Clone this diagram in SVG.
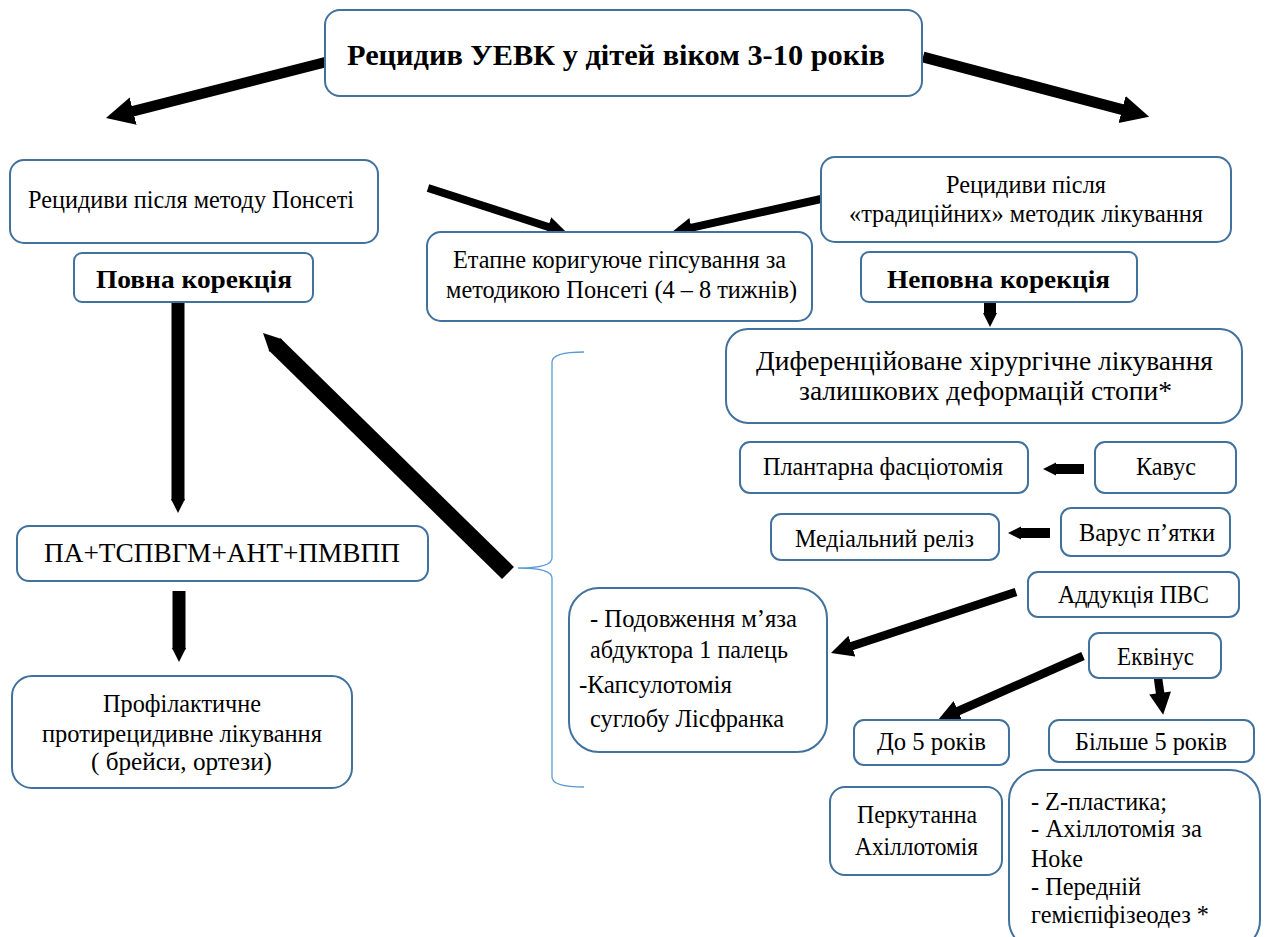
<svg xmlns="http://www.w3.org/2000/svg" width="1265" height="937" viewBox="0 0 1265 937" font-family="Liberation Serif" font-size="25">
<style>
.box{fill:#fff;stroke:#41719c;stroke-width:2}
.b{font-weight:bold}
.ar{stroke:#000;fill:none}
.brace{fill:none;stroke:#5b9bd5;stroke-width:1.3}
</style>
<defs>
<marker id="h1" viewBox="0 0 10 10" refX="1" refY="5" markerUnits="userSpaceOnUse" markerWidth="28" markerHeight="29" orient="auto"><path d="M0,0L10,5L0,10z" fill="#000"/></marker>
<marker id="h2" viewBox="0 0 10 10" refX="1" refY="5" markerUnits="userSpaceOnUse" markerWidth="20" markerHeight="23" orient="auto"><path d="M0,0L10,5L0,10z" fill="#000"/></marker>
<marker id="h3" viewBox="0 0 10 10" refX="1" refY="5" markerUnits="userSpaceOnUse" markerWidth="14" markerHeight="30" orient="auto"><path d="M0,0L10,5L0,10z" fill="#000"/></marker>
<marker id="h4" viewBox="0 0 10 10" refX="1" refY="5" markerUnits="userSpaceOnUse" markerWidth="18" markerHeight="34" orient="auto"><path d="M0,0L10,5L0,10z" fill="#000"/></marker>
<marker id="h5" viewBox="0 0 10 10" refX="1" refY="5" markerUnits="userSpaceOnUse" markerWidth="13" markerHeight="17" orient="auto"><path d="M0,0L10,5L0,10z" fill="#000"/></marker>
<marker id="h6" viewBox="0 0 10 10" refX="1" refY="5" markerUnits="userSpaceOnUse" markerWidth="14" markerHeight="28" orient="auto"><path d="M0,0L10,5L0,10z" fill="#000"/></marker>
<marker id="h7" viewBox="0 0 10 10" refX="1" refY="5" markerUnits="userSpaceOnUse" markerWidth="22" markerHeight="23" orient="auto"><path d="M0,0L10,5L0,10z" fill="#000"/></marker>
<marker id="h8" viewBox="0 0 10 10" refX="1" refY="5" markerUnits="userSpaceOnUse" markerWidth="30" markerHeight="22" orient="auto"><path d="M0,0L10,5L0,10z" fill="#000"/></marker>
</defs>

<g id="connectors">
<line class="ar" x1="326" y1="62" x2="130.4" y2="111.8" stroke-width="10.5" marker-end="url(#h1)"/>
<line class="ar" x1="923" y1="57" x2="1124.8" y2="110.3" stroke-width="11" marker-end="url(#h1)"/>
<line class="ar" x1="428" y1="188" x2="550" y2="227.5" stroke-width="8" marker-end="url(#h2)"/>
<line class="ar" x1="821" y1="199" x2="689.6" y2="228.1" stroke-width="8" marker-end="url(#h2)"/>
<line class="ar" x1="178" y1="302" x2="178" y2="500.4" stroke-width="13" marker-end="url(#h3)"/>
<line class="ar" x1="179" y1="591" x2="179" y2="649.4" stroke-width="13" marker-end="url(#h3)"/>
<line class="ar" x1="508" y1="573" x2="274.6" y2="344.3" stroke-width="17" marker-end="url(#h4)"/>
<line class="ar" x1="990" y1="302" x2="990" y2="314.4" stroke-width="12" marker-end="url(#h6)"/>
<line class="ar" x1="1084" y1="469" x2="1054.7" y2="469" stroke-width="10" marker-end="url(#h5)"/>
<line class="ar" x1="1050" y1="533" x2="1019.7" y2="533" stroke-width="10" marker-end="url(#h5)"/>
<line class="ar" x1="1016" y1="592" x2="849.8" y2="646.8" stroke-width="8.5" marker-end="url(#h7)"/>
<line class="ar" x1="1083" y1="656" x2="956.1" y2="712" stroke-width="8.5" marker-end="url(#h7)"/>
<line class="ar" x1="1158" y1="678" x2="1160.4" y2="695.2" stroke-width="8.5" marker-end="url(#h8)"/>
<path class="brace" d="M584,352 Q552,352 552,362 L552,558 Q552,568 518,568 Q552,568 552,578 L552,777 Q552,787 584,787"/>
</g>

<g id="title"><rect class="box" x="325" y="10" width="597" height="86" rx="15"/>
<text class="b" x="347" y="65" font-size="30" textLength="538" lengthAdjust="spacingAndGlyphs">Рецидив УЕВК у дітей віком 3-10 років</text></g>

<g id="ponseti"><rect class="box" x="10" y="160" width="368" height="83" rx="14"/>
<text x="28" y="208" textLength="326" lengthAdjust="spacingAndGlyphs">Рецидиви після методу Понсеті</text></g>

<g id="povna"><rect class="box" x="74" y="253" width="239" height="49" rx="8"/>
<text class="b" x="96" y="288" textLength="196" lengthAdjust="spacingAndGlyphs">Повна корекція</text></g>

<g id="etapne"><rect class="box" x="427" y="232" width="385" height="89" rx="14"/>
<text x="453" y="268" textLength="333" lengthAdjust="spacingAndGlyphs">Етапне коригуюче гіпсування за</text>
<text x="446" y="298" textLength="351" lengthAdjust="spacingAndGlyphs">методикою Понсеті (4 – 8 тижнів)</text></g>

<g id="trad"><rect class="box" x="821" y="157" width="410" height="85" rx="14"/>
<text x="946" y="193" textLength="160" lengthAdjust="spacingAndGlyphs">Рецидиви після</text>
<text x="849" y="222" textLength="354" lengthAdjust="spacingAndGlyphs">«традиційних» методик лікування</text></g>

<g id="nepovna"><rect class="box" x="861" y="252" width="276" height="50" rx="8"/>
<text class="b" x="887" y="288" textLength="223" lengthAdjust="spacingAndGlyphs">Неповна корекція</text></g>

<g id="dyf"><rect class="box" x="726" y="329" width="516" height="94" rx="22"/>
<text x="756" y="370" font-size="27" textLength="457" lengthAdjust="spacingAndGlyphs">Диференційоване хірургічне лікування</text>
<text x="799" y="400" font-size="27" textLength="373" lengthAdjust="spacingAndGlyphs">залишкових деформацій стопи*</text></g>

<g id="plantar"><rect class="box" x="740" y="442" width="288" height="51" rx="10"/>
<text x="763" y="475" textLength="240" lengthAdjust="spacingAndGlyphs">Плантарна фасціотомія</text></g>

<g id="kavus"><rect class="box" x="1095" y="442" width="141" height="51" rx="10"/>
<text x="1136" y="475" textLength="60" lengthAdjust="spacingAndGlyphs">Кавус</text></g>

<g id="medial"><rect class="box" x="771" y="514" width="228" height="46" rx="10"/>
<text x="795" y="547" textLength="179" lengthAdjust="spacingAndGlyphs">Медіальний реліз</text></g>

<g id="varus"><rect class="box" x="1061" y="508" width="169" height="48" rx="10"/>
<text x="1079" y="541" textLength="136" lengthAdjust="spacingAndGlyphs">Варус п’ятки</text></g>

<g id="adduk"><rect class="box" x="1028" y="572" width="211" height="45" rx="10"/>
<text x="1058" y="603" textLength="151" lengthAdjust="spacingAndGlyphs">Аддукція ПВС</text></g>

<g id="podovzh"><rect class="box" x="569" y="588" width="258" height="164" rx="30"/>
<text x="590" y="627" textLength="207" lengthAdjust="spacingAndGlyphs">- Подовження м’яза</text>
<text x="590" y="658" textLength="198" lengthAdjust="spacingAndGlyphs">абдуктора 1 палець</text>
<text x="579" y="693" textLength="153" lengthAdjust="spacingAndGlyphs">-Капсулотомія</text>
<text x="590" y="727" textLength="194" lengthAdjust="spacingAndGlyphs">суглобу Лісфранка</text></g>

<g id="ekvin"><rect class="box" x="1089" y="633" width="132" height="45" rx="10"/>
<text x="1117" y="665" textLength="77" lengthAdjust="spacingAndGlyphs">Еквінус</text></g>

<g id="do5"><rect class="box" x="854" y="720" width="155" height="45" rx="10"/>
<text x="877" y="750" textLength="109" lengthAdjust="spacingAndGlyphs">До 5 років</text></g>

<g id="bilshe"><rect class="box" x="1049" y="720" width="205" height="42" rx="10"/>
<text x="1075" y="750" textLength="152" lengthAdjust="spacingAndGlyphs">Більше 5 років</text></g>

<g id="perk"><rect class="box" x="830" y="787" width="172" height="88" rx="15"/>
<text x="857" y="823" textLength="120" lengthAdjust="spacingAndGlyphs">Перкутанна</text>
<text x="855" y="855" textLength="123" lengthAdjust="spacingAndGlyphs">Ахіллотомія</text></g>

<g id="zplast"><rect class="box" x="1009" y="770" width="251" height="180" rx="30"/>
<text x="1031" y="810" textLength="136" lengthAdjust="spacingAndGlyphs">- Z-пластика;</text>
<text x="1031" y="837" textLength="171" lengthAdjust="spacingAndGlyphs">- Ахіллотомія за</text>
<text x="1031" y="867" textLength="52" lengthAdjust="spacingAndGlyphs">Hoke</text>
<text x="1031" y="895" textLength="110" lengthAdjust="spacingAndGlyphs">- Передній</text>
<text x="1031" y="923" textLength="178" lengthAdjust="spacingAndGlyphs">гемієпіфізеодез  *</text></g>

<g id="pa"><rect class="box" x="17" y="526" width="411" height="55" rx="12"/>
<text x="44" y="562" font-size="27" textLength="356" lengthAdjust="spacingAndGlyphs">ПА+ТСПВГМ+АНТ+ПМВПП</text></g>

<g id="prof"><rect class="box" x="12" y="676" width="340" height="112" rx="20"/>
<text x="103" y="712" textLength="158" lengthAdjust="spacingAndGlyphs">Профілактичне</text>
<text x="42" y="742" textLength="280" lengthAdjust="spacingAndGlyphs">протирецидивне лікування</text>
<text x="91" y="770" textLength="181" lengthAdjust="spacingAndGlyphs">( брейси, ортези)</text></g>
</svg>
